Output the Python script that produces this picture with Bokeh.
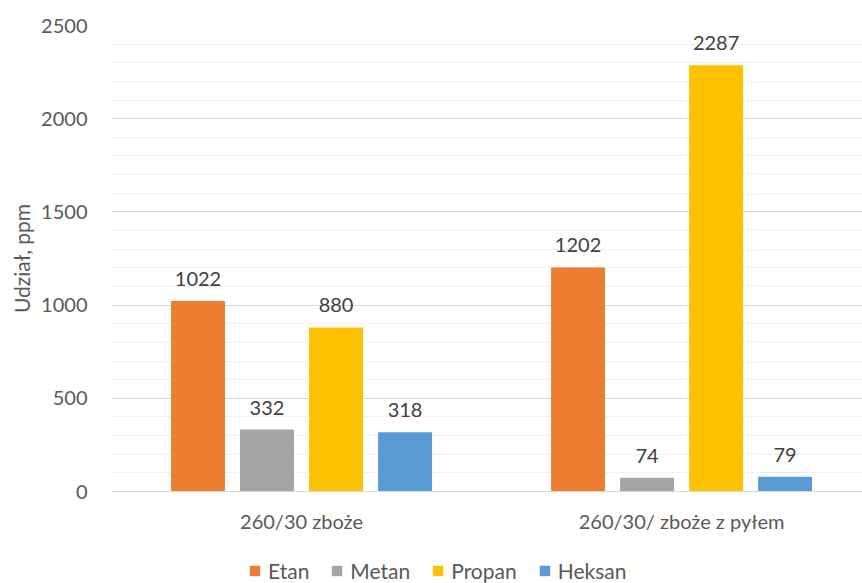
from bokeh.plotting import figure
from bokeh.layouts import column
from bokeh.models import (ColumnDataSource, Legend, LegendItem, FixedTicker,
                          SingleIntervalTicker, Range1d)
from bokeh.core.properties import value
from bokeh.embed import file_html
from bokeh.resources import INLINE

categories = ["260/30 zboże", "260/30/ zboże z pyłem"]
series_names = ["Etan", "Metan", "Propan", "Heksan"]
etan = [1022, 1202]
metan = [332, 74]
propan = [880, 2287]
heksan = [318, 79]

values = [etan, metan, propan, heksan]
colors = ["#ED7D31", "#A5A5A5", "#FFC000", "#5B9BD5"]
FONT = "Lato"

p = figure(width=862, height=535, output_backend="svg", toolbar_location=None,
           x_range=Range1d(-0.5, 1.476), y_range=Range1d(0, 2500),
           min_border_left=111, min_border_right=0, min_border_top=25,
           min_border_bottom=43)
p.outline_line_color = None

pitch = 0.1816
bw = 0.142
renderers = []
for i, (name, vals, col) in enumerate(zip(series_names, values, colors)):
    off = (i - 1.5) * pitch
    xs = [j + off for j in range(len(categories))]
    src = ColumnDataSource(dict(x=xs, top=vals, lab=[str(v) for v in vals]))
    r = p.vbar(x="x", top="top", width=bw, source=src, fill_color=col,
               line_color=None)
    renderers.append(r)
    p.text(x="x", y="top", text="lab", source=src, y_offset=-15,
           text_align="center", text_baseline="bottom",
           text_font=value(FONT), text_font_size="20px", text_color="#404040")

# axes
p.yaxis.ticker = SingleIntervalTicker(interval=500, num_minor_ticks=5)
p.yaxis.axis_line_color = None
p.yaxis.major_tick_line_color = None
p.yaxis.minor_tick_line_color = None
p.yaxis.major_label_text_font = FONT
p.yaxis.major_label_text_font_size = "20px"
p.yaxis.major_label_text_color = "#595959"
p.yaxis.major_label_standoff = 18
p.yaxis.axis_label = "Udział, ppm"
p.yaxis.axis_label_text_font = FONT
p.yaxis.axis_label_text_font_size = "21px"
p.yaxis.axis_label_text_font_style = "normal"
p.yaxis.axis_label_text_color = "#595959"
p.yaxis.axis_label_standoff = 4

p.xaxis.ticker = FixedTicker(ticks=[0, 1])
p.xaxis.major_label_overrides = {0: categories[0], 1: categories[1]}
p.xaxis.axis_line_color = "#D9D9D9"
p.xaxis.major_tick_line_color = None
p.xaxis.minor_tick_line_color = None
p.xaxis.major_label_text_font = FONT
p.xaxis.major_label_text_font_size = "20px"
p.xaxis.major_label_text_color = "#595959"
p.xaxis.major_label_standoff = 11

p.xgrid.grid_line_color = None
p.ygrid.grid_line_color = "#D9D9D9"
p.ygrid.minor_grid_line_color = "#EFEFEF"

# legend panel
lf = figure(width=862, height=48, output_backend="svg", toolbar_location=None,
            x_range=Range1d(0, 1), y_range=Range1d(0, 1),
            min_border=0)
lf.axis.visible = False
lf.grid.visible = False
lf.outline_line_color = None
lrs = []
for col in colors:
    lrs.append(lf.vbar(x=[-10], top=[-10], width=0.1, fill_color=col,
                       line_color=None))

legend = Legend(items=[LegendItem(label=n, renderers=[r]) for n, r in zip(series_names, lrs)],
                orientation="horizontal", location=(137, 0),
                label_text_font=FONT, label_text_font_size="21px",
                label_text_color="#595959", glyph_width=13, glyph_height=13,
                label_standoff=7, spacing=21, padding=0, margin=0,
                border_line_color=None, background_fill_alpha=0)
lf.add_layout(legend, "center")

layout = column(p, lf, spacing=0)
open("out.html", "w").write(file_html(layout, INLINE))
